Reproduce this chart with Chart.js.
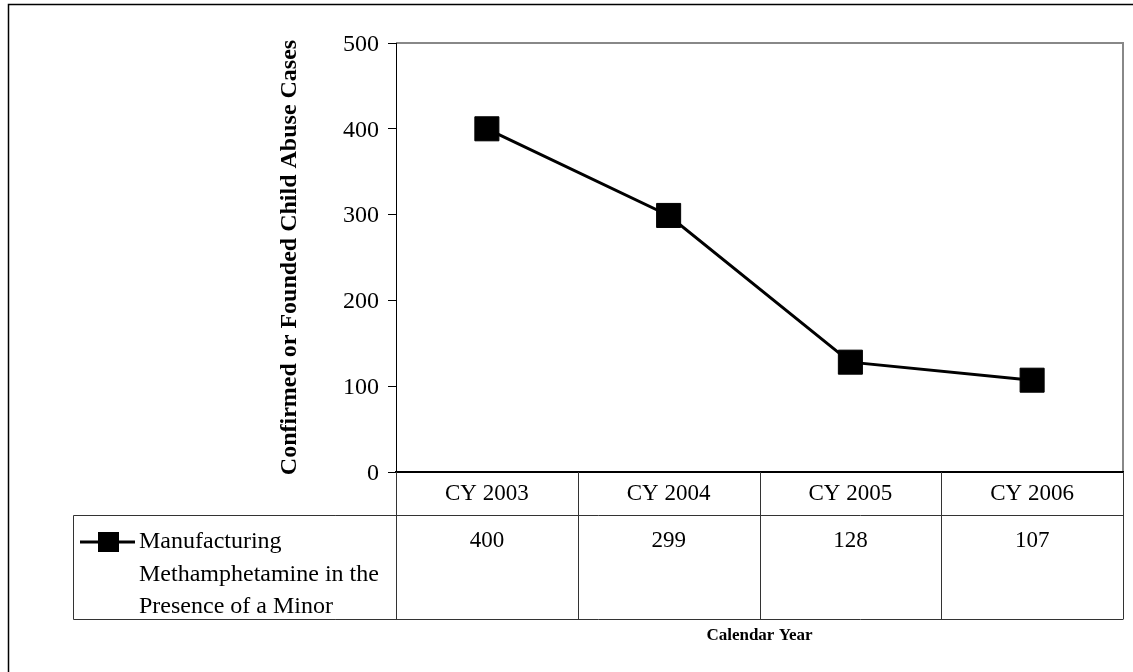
<!DOCTYPE html>
<html>
<head>
<meta charset="utf-8">
<script src="https://cdn.jsdelivr.net/npm/chart.js@4.4.1/dist/chart.umd.min.js"></script>
<style>
  html, body { margin: 0; padding: 0; background: #fff; }
  canvas { display: block; }
</style>
</head>
<body>
<canvas id="chart" width="1133" height="672"></canvas>
<script>
const years = ["CY 2003", "CY 2004", "CY 2005", "CY 2006"]
const cases = [400, 299, 128, 107]
const seriesLines = ["Manufacturing", "Methamphetamine in the", "Presence of a Minor"]
const yTicks = [0, 100, 200, 300, 400, 500]

const serif = "'Liberation Serif', 'Times New Roman', serif"

// outer frame, grey plot border and the data table under the x axis
const tablePlugin = {
  id: "dataTable",
  beforeDraw(chart) {
    const { ctx, chartArea: a } = chart
    ctx.save()
    ctx.fillStyle = "#fff"
    ctx.fillRect(0, 0, chart.width, chart.height)
    ctx.strokeStyle = "#000"
    ctx.lineWidth = 1.5
    ctx.beginPath()
    ctx.moveTo(8.5, chart.height)
    ctx.lineTo(8.5, 4.5)
    ctx.lineTo(chart.width, 4.5)
    ctx.stroke()
    ctx.strokeStyle = "#888"
    ctx.lineWidth = 2
    ctx.beginPath()
    ctx.moveTo(a.left, a.top)
    ctx.lineTo(a.right, a.top)
    ctx.lineTo(a.right, a.bottom)
    ctx.stroke()
    ctx.restore()
  },
  afterDraw(chart) {
    const { ctx, chartArea: a } = chart
    const x = chart.scales.x
    const headerBottom = 515.5
    const tableBottom = 619.5
    const legendLeft = 73.5

    const edges = [x.left]
    for (let i = 0; i < years.length - 1; i++) {
      edges.push((x.getPixelForValue(i) + x.getPixelForValue(i + 1)) / 2)
    }
    edges.push(x.right)

    ctx.save()
    ctx.strokeStyle = "#333"
    ctx.lineWidth = 1
    ctx.beginPath()
    edges.forEach((e) => {
      const px = Math.round(e) + 0.5
      ctx.moveTo(px, a.bottom)
      ctx.lineTo(px, tableBottom)
    })
    ctx.moveTo(legendLeft, headerBottom)
    ctx.lineTo(x.right, headerBottom)
    ctx.moveTo(legendLeft, tableBottom)
    ctx.lineTo(x.right, tableBottom)
    ctx.moveTo(legendLeft, headerBottom)
    ctx.lineTo(legendLeft, tableBottom)
    ctx.stroke()

    // values row
    ctx.fillStyle = "#000"
    ctx.font = "23px " + serif
    ctx.textAlign = "center"
    ctx.textBaseline = "alphabetic"
    cases.forEach((v, i) => {
      ctx.fillText(String(v), x.getPixelForValue(i), 547)
    })

    // legend key
    ctx.strokeStyle = "#000"
    ctx.lineWidth = 3
    ctx.beginPath()
    ctx.moveTo(80, 542)
    ctx.lineTo(135, 542)
    ctx.stroke()
    ctx.fillRect(98, 532, 21, 20)

    ctx.font = "24px " + serif
    ctx.textAlign = "left"
    const baselines = [548, 581, 613]
    seriesLines.forEach((t, i) => ctx.fillText(t, 139, baselines[i]))
    ctx.restore()
  }
}

new Chart(document.getElementById("chart"), {
  type: "line",
  data: {
    labels: years,
    datasets: [{
      label: seriesLines.join(" "),
      data: cases,
      borderColor: "#000",
      borderWidth: 3,
      backgroundColor: "#000",
      pointStyle: "rect",
      pointRadius: 17,
      pointBorderWidth: 1,
      pointBackgroundColor: "#000",
      pointBorderColor: "#000",
      tension: 0
    }]
  },
  options: {
    responsive: false,
    animation: false,
    layout: { autoPadding: false, padding: { left: 275, top: 43, right: 10, bottom: 26 } },
    plugins: {
      legend: { display: false },
      tooltip: { enabled: false }
    },
    scales: {
      x: {
        offset: true,
        grid: { display: false, drawTicks: false },
        border: { display: true, color: "#000", width: 2 },
        ticks: {
          color: "#000",
          font: { family: serif, size: 23 },
          padding: 8,
          maxRotation: 0,
          autoSkip: false
        },
        title: {
          display: true,
          text: "Calendar Year",
          color: "#000",
          font: { family: serif, size: 17, weight: "bold" },
          padding: 0
        },
        afterFit(scale) { scale.height = 174 }
      },
      y: {
        min: 0,
        max: 500,
        afterBuildTicks(scale) { scale.ticks = yTicks.map((v) => ({ value: v })) },
        ticks: { color: "#000", font: { family: serif, size: 24 }, padding: 9, labelOffset: 1.5 },
        grid: { drawOnChartArea: false, drawTicks: true, tickLength: 8, color: "#000" },
        border: { color: "#000", width: 1 },
        title: {
          display: true,
          text: "Confirmed or Founded Child Abuse Cases",
          color: "#000",
          font: { family: serif, size: 24, weight: "bold" },
          padding: 0
        },
        afterFit(scale) { scale.width = 121 }
      }
    }
  },
  plugins: [tablePlugin]
})
</script>
</body>
</html>
